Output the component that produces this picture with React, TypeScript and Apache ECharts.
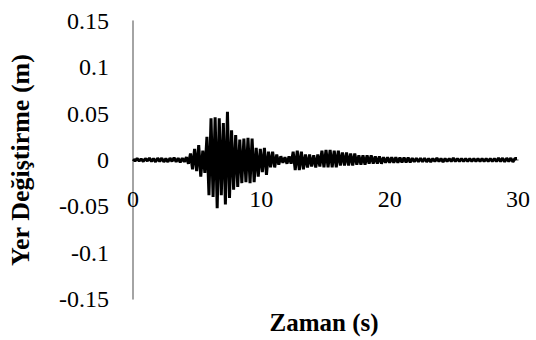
import React, { useEffect, useRef } from "react";
import * as echarts from "echarts";

const xTicks = [0, 10, 20, 30];
const yTickLabels = ["-0.15", "-0.1", "-0.05", "0", "0.05", "0.1", "0.15"];
const sampleStep = 0.16; // seconds between samples
const displacement = [
  0.001, -0.001, 0.0015, -0.001, 0.001, -0.0015, 0.0015, -0.001, 0.002, -0.0015,
  0.0015, -0.002, 0.002, -0.0015, 0.002, -0.002, 0.0015, -0.002, 0.002, -0.0015,
  0.0025, -0.002, 0.002, -0.0025, 0.002, -0.002, 0.003,
  -0.004, 0.007, -0.01, 0.012, -0.012, 0.016, -0.018, 0.01, -0.014, 0.025,
  -0.038, 0.045, -0.04, 0.046, -0.052, 0.045, -0.038, 0.04, -0.048, 0.052,
  -0.041, 0.032, -0.032, 0.027, -0.029, 0.022, -0.025, 0.023, -0.024, 0.024,
  -0.025, 0.023, -0.024, 0.013, -0.018, 0.012, -0.013, 0.013, -0.016, 0.009,
  -0.008, 0.009, -0.008, 0.006, -0.005, 0.004, -0.003, 0.003, -0.004, 0.004,
  -0.004, 0.009, -0.011, 0.01, -0.011, 0.009, -0.01, 0.006, -0.008, 0.006,
  -0.007, 0.005, -0.008, 0.006, -0.007, 0.01, -0.008, 0.011, -0.008, 0.011,
  -0.008, 0.01, -0.008, 0.01, -0.006, 0.008, -0.006, 0.008, -0.006, 0.007,
  -0.006, 0.007, -0.005, 0.005, -0.005, 0.005, -0.005, 0.005, -0.004, 0.005,
  -0.004, 0.004, -0.004, 0.004, -0.004, 0.003, -0.003, 0.003, -0.003, 0.003,
  -0.003, 0.003, -0.003, 0.0025, -0.0025, 0.0025, -0.0025, 0.0025, -0.0025, 0.002,
  -0.002, 0.002, -0.002, 0.002, -0.002, 0.002, -0.002, 0.0015, -0.002, 0.0015,
  -0.0015, 0.002, -0.0015, 0.0015, -0.002, 0.0015, -0.0015, 0.0015, -0.0015, 0.002,
  -0.0015, 0.0015, -0.0015, 0.0015, -0.0015, 0.0015, -0.0015, 0.0015, -0.0015, 0.0015,
  -0.0015, 0.0015, -0.0015, 0.0015, -0.0015, 0.0015, -0.0015, 0.0015, -0.0015, 0.0015,
  -0.0015, 0.002, -0.0015, 0.002, -0.002, 0.002, -0.0015, 0.002, -0.002, 0.0015, 0.0015,
];

const FONT = "Liberation Serif, Times New Roman, DejaVu Serif, serif";
const GRID_TOP = 21;
const GRID_BOTTOM = 41;
const HEIGHT = 340;

export default function App() {
  const ref = useRef<HTMLDivElement>(null);
  useEffect(() => {
    if (!ref.current) return;
    const chart = echarts.init(ref.current, null, { renderer: "svg" });
    const data = displacement.map((v, i) => [i * sampleStep, v]);
    const plotH = HEIGHT - GRID_TOP - GRID_BOTTOM;
    chart.setOption({
      animation: false,
      backgroundColor: "#ffffff",
      textStyle: { fontFamily: FONT },
      grid: { left: 133, right: 18, top: GRID_TOP, bottom: GRID_BOTTOM },
      xAxis: {
        type: "value",
        min: xTicks[0],
        max: xTicks[xTicks.length - 1],
        interval: 10,
        offset: -plotH / 2,
        axisLine: { show: true, onZero: false, lineStyle: { color: "#868686", width: 1.5 } },
        axisTick: { show: false },
        splitLine: { show: false },
        axisLabel: {
          margin: 27,
          color: "#000",
          fontSize: 24,
          fontFamily: FONT,
          formatter: (v: number) => String(v),
        },
      },
      yAxis: {
        type: "value",
        min: -0.15,
        max: 0.15,
        interval: 0.05,
        axisLine: { show: true, onZero: false, lineStyle: { color: "#868686", width: 1.5 } },
        axisTick: { show: false },
        splitLine: { show: false },
        axisLabel: {
          margin: 24,
          color: "#000",
          fontSize: 24,
          fontFamily: FONT,
          formatter: (_v: number, idx: number) => yTickLabels[idx],
        },
      },
      graphic: [
        {
          type: "text",
          x: 20,
          y: 160,
          rotation: Math.PI / 2,
          style: {
            text: "Yer Değiştirme (m)",
            font: `bold 26px ${FONT}`,
            fill: "#000",
            textAlign: "center",
            textVerticalAlign: "middle",
          },
        },
        {
          type: "text",
          x: 324,
          y: 322,
          style: {
            text: "Zaman (s)",
            font: `bold 25px ${FONT}`,
            fill: "#000",
            textAlign: "center",
            textVerticalAlign: "middle",
          },
        },
      ],
      series: [
        {
          type: "line",
          data,
          showSymbol: false,
          smooth: false,
          lineStyle: { color: "#000", width: 3 },
        },
      ],
    });
    return () => chart.dispose();
  }, []);
  return (
    <div
      ref={ref}
      style={{ position: "absolute", left: 0, top: 0, width: 536, height: HEIGHT }}
    />
  );
}
